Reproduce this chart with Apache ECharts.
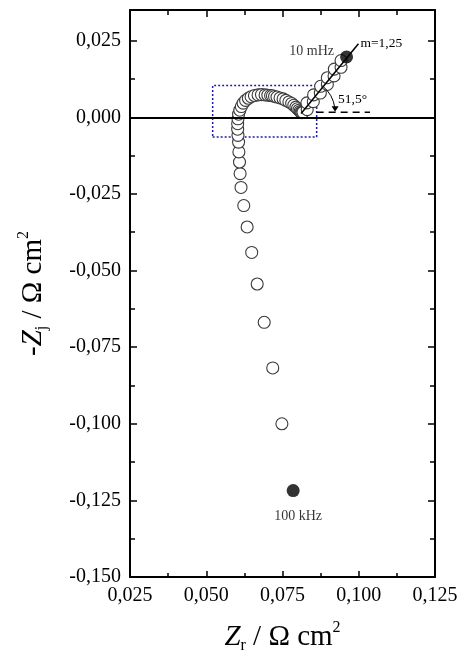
<!DOCTYPE html>
<html>
<head>
<meta charset="utf-8">
<script src="https://cdn.jsdelivr.net/npm/echarts@6/dist/echarts.min.js"></script>
<style>
  html, body { margin: 0; padding: 0; background: #fff; }
  #myChart { width: 469px; height: 659px; }
</style>
</head>
<body>
<div id="myChart"></div>
<script>
// impedance data, high frequency -> low frequency
var zReal = [0.0748, 0.0718, 0.0690, 0.0667, 0.0649, 0.0634, 0.0623, 0.0614, 0.0611, 0.0609,
  0.0607, 0.0606, 0.0604, 0.0603, 0.0603, 0.0604, 0.0606, 0.0610, 0.0615, 0.0621,
  0.0629, 0.0638, 0.0647, 0.0658, 0.0670, 0.0681, 0.0693, 0.0702, 0.0711, 0.0717,
  0.0724, 0.0732, 0.0742, 0.0752, 0.0761, 0.0771, 0.0780, 0.0787, 0.0794, 0.0799,
  0.0804, 0.0808, 0.0811, 0.0814, 0.0817, 0.0831, 0.0830, 0.0851, 0.0852, 0.0874,
  0.0875, 0.0897, 0.0897, 0.0919, 0.0920, 0.0942, 0.0942]
var zImag = [-0.1000, -0.0818, -0.0669, -0.0544, -0.0441, -0.0358, -0.0288, -0.0229, -0.0184, -0.0146,
  -0.0113, -0.0081, -0.0059, -0.0039, -0.0021, -0.0005, 0.0010, 0.0023, 0.0035, 0.0046,
  0.0055, 0.0062, 0.0067, 0.0071, 0.0073, 0.0074, 0.0073, 0.0072, 0.0071, 0.0070,
  0.0068, 0.0066, 0.0063, 0.0060, 0.0055, 0.0050, 0.0045, 0.0039, 0.0033, 0.0028,
  0.0023, 0.0019, 0.0016, 0.0015, 0.0016, 0.0025, 0.0047, 0.0051, 0.0073, 0.0079,
  0.0101, 0.0107, 0.0129, 0.0135, 0.0157, 0.0163, 0.0185]

// the two filled points
var markReal = [0.0785, 0.0960]
var markImag = [-0.1218, 0.0197]
var markText = ['100 kHz', '10 mHz']

// fit line, reference dashed line, zoom box
var fitReal = [0.0811, 0.0999]
var fitImag = [0.0012, 0.0240]
var fitText = 'm=1,25'
var refReal = [0.0862, 0.1037]
var refImag = [0.0016, 0.0016]
var boxReal = [0.0521, 0.0862, 0.0862, 0.0521, 0.0521]
var boxImag = [-0.0064, -0.0064, 0.0104, 0.0104, -0.0064]
var angleText = '51,5°'

var xTicks = [0.025, 0.050, 0.075, 0.100, 0.125]
var xMinor = [0.0375, 0.0625, 0.0875, 0.1125]
var yTicks = [-0.150, -0.125, -0.100, -0.075, -0.050, -0.025, 0.000, 0.025]
var yMinor = [-0.1375, -0.1125, -0.0875, -0.0625, -0.0375, -0.0125, 0.0125]

var font = '"Liberation Serif", "Times New Roman", serif'

function fmt (v) {
  return v.toFixed(3).replace('.', ',')
}
function zip (a, b) {
  return a.map(function (v, i) { return [v, b[i]] })
}

function xAx (pos, values, len, labels) {
  return {
    type: 'value', position: pos, min: 0.025, max: 0.125,
    splitLine: { show: false },
    axisLine: { show: labels !== null, onZero: false, lineStyle: { color: '#000', width: 2 } },
    axisTick: { show: true, inside: true, length: len, customValues: values, lineStyle: { color: '#000', width: 1.5 } },
    axisLabel: labels ? {
      show: true, customValues: labels, margin: 9, color: '#000', fontSize: 20, fontFamily: font,
      formatter: fmt
    } : { show: false }
  }
}
function yAx (pos, values, len, labels) {
  return {
    type: 'value', position: pos, min: -0.150, max: 0.035,
    splitLine: { show: false },
    axisLine: { show: labels !== null, onZero: false, lineStyle: { color: '#000', width: 2 } },
    axisTick: { show: true, inside: true, length: len, customValues: values, lineStyle: { color: '#000', width: 1.5 } },
    axisLabel: labels ? {
      show: true, customValues: labels, margin: 9, color: '#000', fontSize: 20, fontFamily: font,
      formatter: fmt
    } : { show: false }
  }
}

var nameRich = {
  a: { fontSize: 29, fontFamily: font, color: '#000', lineHeight: 34 },
  i: { fontSize: 29, fontFamily: font, fontStyle: 'italic', color: '#000', lineHeight: 34 },
  sub: { fontSize: 16, fontFamily: font, color: '#000', lineHeight: 12, verticalAlign: 'bottom' },
  sup: { fontSize: 16, fontFamily: font, color: '#000', lineHeight: 14, verticalAlign: 'top' }
}

var xAxes = [xAx('bottom', xTicks, 6, xTicks), xAx('top', xTicks, 7, []), xAx('bottom', xMinor, 4, null), xAx('top', xMinor, 5, null)]
xAxes[0].name = '{i|Z}{sub|r}{a| / Ω cm}{sup|2}'
xAxes[0].nameLocation = 'middle'
xAxes[0].nameGap = 43
xAxes[0].nameTextStyle = { rich: nameRich }
xAxes[1].axisLabel = { show: false }

var yAxes = [yAx('left', yTicks, 7, yTicks), yAx('right', yTicks, 7, []), yAx('left', yMinor, 5, null), yAx('right', yMinor, 5, null)]
yAxes[0].name = '{a|-}{i|Z}{sub|j}{a| / Ω cm}{sup|2}'
yAxes[0].nameLocation = 'middle'
yAxes[0].nameRotate = 90
yAxes[0].nameGap = 80
yAxes[0].nameTextStyle = { rich: nameRich }
yAxes[1].axisLabel = { show: false }

var myChart = echarts.init(document.getElementById('myChart'), null, { renderer: 'canvas' })

var option = {
  backgroundColor: '#fff',
  animation: false,
  grid: { left: 130, right: 34, top: 10, bottom: 82, outerBoundsMode: 'none' },
  xAxis: xAxes,
  yAxis: yAxes,
  series: [
    {
      name: 'box',
      type: 'line',
      data: zip(boxReal, boxImag),
      showSymbol: false,
      symbol: 'none',
      lineStyle: { color: '#1c1ca8', width: 1.5, type: [2, 2] },
      z: 1
    },
    {
      name: 'data',
      type: 'scatter',
      data: zip(zReal, zImag),
      symbol: 'circle',
      symbolSize: 12,
      itemStyle: { color: '#fff', borderColor: '#3a3a3a', borderWidth: 1.1, opacity: 1 }
    },
    {
      name: 'fit',
      type: 'line',
      data: zip(fitReal, fitImag),
      symbol: 'none',
      lineStyle: { color: '#000', width: 1.5 },
      endLabel: {
        show: true, formatter: fitText, color: '#000', fontSize: 13.5, fontFamily: font, distance: 2
      },
      z: 3
    },
    {
      name: 'ref',
      type: 'line',
      data: zip(refReal, refImag),
      symbol: 'none',
      lineStyle: { color: '#000', width: 1.5, type: [7, 5] },
      z: 3,
      markLine: {
        silent: true,
        symbol: 'none',
        label: { show: false },
        lineStyle: { color: '#000', width: 2, type: 'solid' },
        data: [{ yAxis: 0 }]
      }
    },
    {
      name: 'marks',
      type: 'scatter',
      data: zip(markReal, markImag).map(function (p, i) {
        return {
          value: p,
          label: i === 0
            ? { show: true, position: 'bottom', distance: 12, offset: [5, 0], formatter: markText[i] }
            : { show: true, position: 'left', distance: 6, offset: [0, -6], formatter: markText[i] }
        }
      }),
      symbol: 'circle',
      symbolSize: 13,
      itemStyle: { color: '#000' },
      label: { color: '#000', fontSize: 14, fontFamily: font },
      z: 4
    }
  ]
}

myChart.setOption(option, true)

// angle arc with arrow and its text, placed from the fit line start
var c = myChart.convertToPixel({ xAxisIndex: 0, yAxisIndex: 0 }, [fitReal[0], refImag[0]])
var r = 34
var ang = 51.5 * Math.PI / 180
myChart.setOption({
  graphic: [
    {
      type: 'arc',
      shape: { cx: c[0], cy: c[1], r: r, startAngle: -ang, endAngle: -0.12 },
      style: { stroke: '#000', lineWidth: 1, fill: null },
      z: 10
    },
    {
      type: 'polygon',
      shape: { points: [[c[0] + r - 3.5, c[1] - 6], [c[0] + r + 3.5, c[1] - 6], [c[0] + r, c[1] - 0.5]] },
      style: { fill: '#000' },
      z: 10
    },
    {
      type: 'text',
      x: c[0] + 37,
      y: c[1] - 13,
      style: { text: angleText, fill: '#000', font: '13.5px ' + font, verticalAlign: 'middle', align: 'left' },
      z: 10
    }
  ]
})
</script>
</body>
</html>
